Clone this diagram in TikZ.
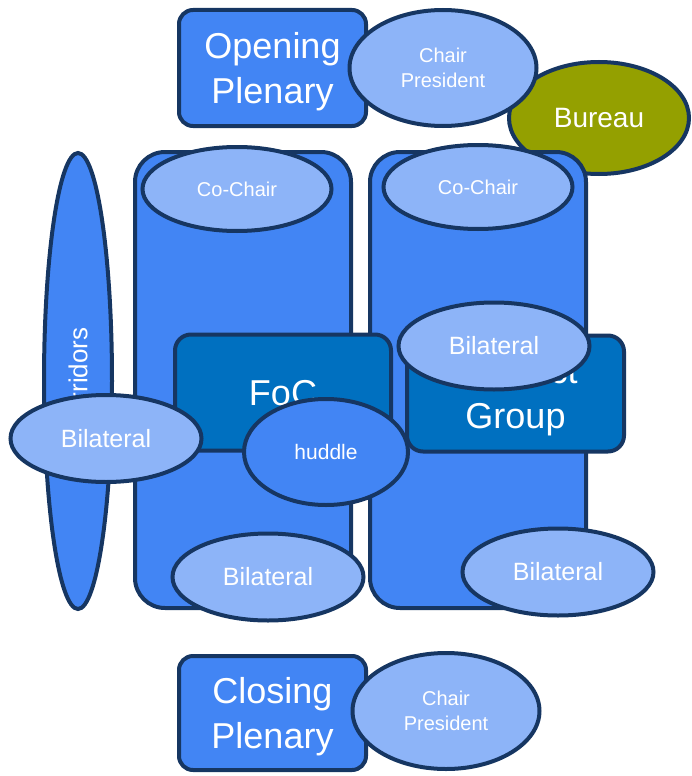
\documentclass[tikz,border=0pt]{standalone}
\usepackage{fontspec}
\setmainfont{Liberation Sans}
\usetikzlibrary{shapes.geometric}
\definecolor{midblue}{RGB}{66,133,244}
\definecolor{lightblue}{RGB}{141,180,248}
\definecolor{darkblue}{RGB}{0,112,192}
\definecolor{edgeblue}{RGB}{22,54,98}
\definecolor{bureauolive}{RGB}{148,160,0}
\newcommand{\fs}[2]{\fontsize{#1}{#2}\selectfont}
\tikzset{
  base/.style={draw=edgeblue, line width=4pt, text=white, inner sep=0pt, align=center},
  plenbox/.style={base, rectangle, rounded corners=14pt, fill=midblue, minimum width=187pt, minimum height=116pt, font=\fs{36}{45}, text depth=0pt},
  column/.style={base, rectangle, rounded corners=30pt, fill=midblue, minimum width=216pt, minimum height=456pt},
  groupbox/.style={base, rectangle, rounded corners=16pt, fill=darkblue, minimum width=216pt, minimum height=116pt, font=\fs{36}{45}, text depth=0pt},
  lightell/.style={base, ellipse, fill=lightblue},
  chairell/.style={lightell, minimum width=187pt, minimum height=116pt, font=\fs{20}{25}},
  cochairell/.style={lightell, minimum width=189pt, minimum height=84pt, font=\fs{20}{24}},
  bilell/.style={lightell, minimum width=191pt, minimum height=87pt, font=\fs{25}{30}},
}
\begin{document}
\begin{tikzpicture}[x=1pt,y=-1pt]
\useasboundingbox (0,0) rectangle (691,776);
% back
\node[base, ellipse, fill=bureauolive, minimum width=180pt, minimum height=112pt, font=\fs{28}{32}] (bureau) at (599,118) {Bureau};
\node[plenbox] (opening) at (272.5,68) {Opening\\Plenary};
\node[chairell] (chairtop) at (443,68) {Chair\\President};
% corridors
\node[base, ellipse, fill=midblue, rotate=90, minimum width=456pt, minimum height=68pt, font=\fs{26}{30}] (corridors) at (78,381) {Corridors};
% columns
\node[column] (colL) at (243,380) {};
\node[column] (colR) at (478,380) {};
\node[cochairell] (cochairL) at (237,189) {Co-Chair};
\node[cochairell] (cochairR) at (478,187) {Co-Chair};
% groups
\node[groupbox] (foc) at (283,392.5) {FoC};
\node[groupbox, minimum width=217pt] (contact) at (515.5,393.5) {Contact\\Group};
\node[bilell] (bilCG) at (494,346) {Bilateral};
\node[base, ellipse, fill=midblue, minimum width=164pt, minimum height=106pt, font=\fs{21}{25}] (huddle) at (326,452) {huddle};
\node[bilell] (bilL) at (106,438.5) {Bilateral};
\node[bilell] (bilBL) at (268,577) {Bilateral};
\node[bilell] (bilBR) at (558,572) {Bilateral};
% closing
\node[plenbox, minimum height=114pt] (closing) at (272.5,713) {Closing\\Plenary};
\node[chairell] (chairbot) at (446,711) {Chair\\President};
\end{tikzpicture}
\end{document}
